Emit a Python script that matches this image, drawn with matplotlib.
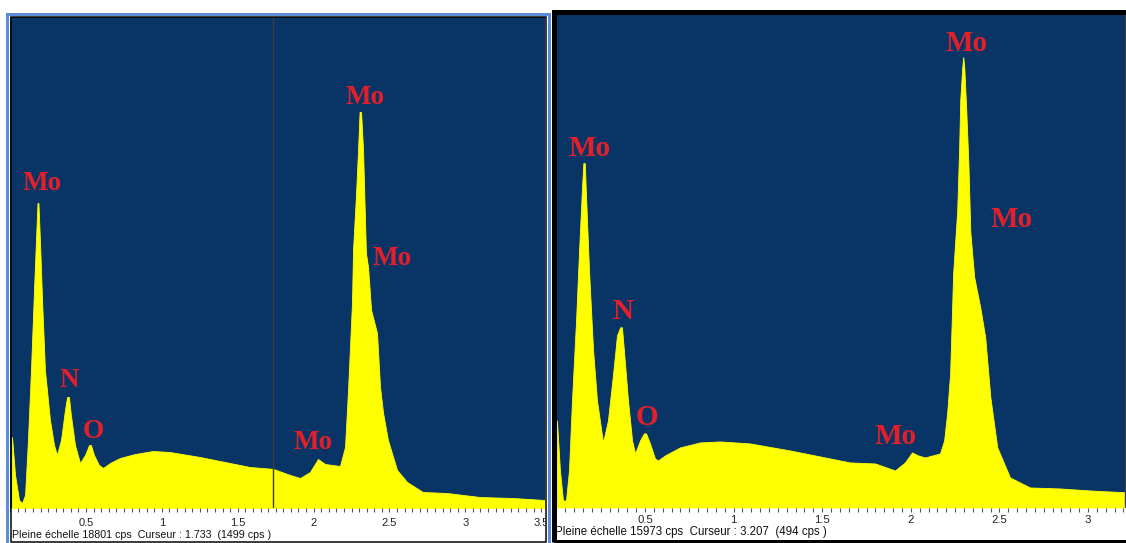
import numpy as np
import matplotlib
matplotlib.use("Agg")
import matplotlib.pyplot as plt
from matplotlib.patches import Rectangle
from matplotlib.ticker import MultipleLocator, FixedLocator, FixedFormatter

# ---- spectrum 1 (energy in keV, counts in cps) ----
energy_a = [0.012, 0.032, 0.058, 0.078, 0.098, 0.117, 0.137, 0.157, 0.170, 0.180,
            0.186, 0.196, 0.210, 0.229, 0.262, 0.289, 0.308, 0.335, 0.361, 0.375,
            0.387, 0.400, 0.427, 0.460, 0.493, 0.520, 0.532, 0.552, 0.585, 0.612,
            0.658, 0.724, 0.823, 0.941, 1.053, 1.251, 1.416, 1.580, 1.733, 1.845,
            1.911, 1.976, 2.029, 2.075, 2.174, 2.207, 2.227, 2.253, 2.260, 2.280,
            2.293, 2.303, 2.313, 2.326, 2.345, 2.359, 2.379, 2.418, 2.438, 2.458,
            2.490, 2.550, 2.616, 2.720, 2.879, 3.097, 3.315, 3.525]
counts_a = [2719, 1264, 306, 191, 498, 2604, 5284, 8347, 10262, 11678,
            11678, 10262, 7964, 5284, 3370, 2412, 2029, 2604, 3752, 4250,
            4250, 3561, 2412, 1723, 2029, 2412, 2412, 2029, 1646, 1532,
            1723, 1915, 2068, 2183, 2144, 1953, 1761, 1570, 1499, 1264,
            1149, 1378, 1876, 1685, 1608, 2336, 4518, 7849, 9879, 12061,
            13708, 15162, 15162, 13708, 9764, 9228, 7582, 6701, 4633, 3638,
            2604, 1455, 996, 613, 574, 421, 383, 306]
full_scale_a = 18801
cursor_a = (1.733, 1499)

# ---- spectrum 2 ----
energy_b = [0.003, 0.020, 0.037, 0.054, 0.071, 0.088, 0.111, 0.128, 0.144, 0.152,
            0.160, 0.167, 0.184, 0.207, 0.229, 0.263, 0.291, 0.319, 0.342, 0.360,
            0.370, 0.381, 0.404, 0.427, 0.444, 0.472, 0.494, 0.506, 0.528, 0.556,
            0.573, 0.613, 0.697, 0.810, 0.923, 1.092, 1.318, 1.544, 1.657, 1.798,
            1.911, 1.967, 2.007, 2.041, 2.080, 2.165, 2.188, 2.205, 2.222, 2.239,
            2.262, 2.273, 2.279, 2.290, 2.296, 2.302, 2.313, 2.325, 2.336, 2.358,
            2.392, 2.420, 2.449, 2.488, 2.560, 2.673, 2.843, 3.012, 3.207]
counts_b = [2819, 1199, 227, 227, 1199, 3467, 6059, 8327, 10271, 11146,
            11146, 10109, 7679, 5087, 3467, 2106, 2819, 4277, 5573, 5832,
            5832, 5087, 3467, 2171, 1750, 2171, 2398, 2398, 2074, 1588,
            1523, 1685, 1944, 2106, 2138, 2074, 1847, 1588, 1458, 1426,
            1199, 1458, 1782, 1685, 1620, 1750, 2171, 3046, 4342, 7582,
            9623, 11664, 13187, 14224, 14580, 14224, 12863, 11146, 8910, 7452,
            6480, 5508, 3564, 1944, 972, 648, 616, 551, 494]
full_scale_b = 15973
cursor_b = (3.207, 494)

# peak annotations: (text, energy, counts)
labels_a = [("Mo", 0.21, 12444), ("N", 0.389, 4901), ("O", 0.546, 2948),
            ("Mo", 2.339, 15737), ("Mo", 2.517, 9572), ("Mo", 1.996, 2489)]
labels_b = [("Mo", 0.189, 11632), ("N", 0.374, 6350), ("O", 0.511, 2916),
            ("Mo", 2.317, 15034), ("Mo", 2.571, 9331), ("Mo", 1.916, 2300)]

tick_labels_a = ["0.5", "1", "1.5", "2", "2.5", "3", "3.5"]
tick_labels_b = ["0.5", "1", "1.5", "2", "2.5", "3"]

W, H = 1126, 543
NAVY = "#083566"
YELLOW = "#ffff00"
RED = "#e3202a"

fig = plt.figure(figsize=(W / 100, H / 100), dpi=100)
fig.patch.set_facecolor("white")


def px_rect(x0, y0, x1, y1):
    """Figure-fraction rectangle from pixel edges (y measured from top)."""
    return [x0 / W, 1 - y1 / H, (x1 - x0) / W, (y1 - y0) / H]


def spectrum_panel(rect, xmax, energy, counts, full_scale, ticks, cursor,
                   labels, label_size, tick_size, tick_pad):
    ax = fig.add_axes(rect)
    ax.set_facecolor(NAVY)
    ax.fill_between(energy, counts, 0, color=YELLOW, lw=0.6, edgecolor=YELLOW)
    ax.axvline(cursor[0], color="#3c3c3c", lw=1.0)
    ax.set_xlim(0, xmax)
    ax.set_ylim(0, full_scale)
    ax.set_yticks([])
    for s in ax.spines.values():
        s.set_visible(False)
    majors = [float(t) for t in ticks]
    ax.xaxis.set_major_locator(FixedLocator(majors))
    ax.xaxis.set_major_formatter(FixedFormatter(ticks))
    ax.xaxis.set_minor_locator(MultipleLocator(0.05))
    ax.tick_params(axis="x", which="both", direction="out", length=3,
                   width=0.8, color="#555555", labelsize=tick_size, pad=tick_pad,
                   labelcolor="#222222")
    for lbl in ax.get_xticklabels():
        lbl.set_fontfamily("Liberation Sans")
    for text, e, c in labels:
        ax.text(e, c, text, color=RED, fontsize=label_size, fontweight="bold",
                family="Liberation Serif", ha="center", va="center")
    return ax


# left spectrum
ax_a = spectrum_panel(px_rect(10.2, 17, 545, 508), (545 - 10.2) / 151.7,
                      energy_a, counts_a, full_scale_a, tick_labels_a, cursor_a,
                      labels_a, 19.5, 8, 4)
# right spectrum
ax_b = spectrum_panel(px_rect(556.4, 14, 1126, 507.5), (1126 - 556.4) / 177.2,
                      energy_b, counts_b, full_scale_b, tick_labels_b, cursor_b,
                      labels_b, 21, 8.2, 2.2)

# clip the last left tick label at the panel edge
clip = matplotlib.transforms.Bbox.from_extents(0, 0, 545, H)
for lbl in ax_a.get_xticklabels():
    lbl.set_clip_box(clip)
    lbl.set_clip_on(True)

# captions
fig.text(12 / W, 1 - 535.5 / H,
         "Pleine échelle %d cps  Curseur : %.3f  (%d cps )" % (full_scale_a, cursor_a[0], cursor_a[1]),
         fontsize=7.7, family="Liberation Sans", va="center", ha="left", color="#111111")
fig.text(555 / W, 1 - 532.5 / H,
         "Pleine échelle %d cps  Curseur : %.3f  (%d cps )" % (full_scale_b, cursor_b[0], cursor_b[1]),
         fontsize=8.3, family="Liberation Sans", va="center", ha="left", color="#111111")

# panel frames
def frame(x0, y0, x1, y1, color, lw_px):
    fig.patches.append(Rectangle((x0 / W, 1 - y1 / H), (x1 - x0) / W, (y1 - y0) / H,
                                 transform=fig.transFigure, fill=False,
                                 edgecolor=color, lw=lw_px * 0.72, zorder=10))

frame(7.5, 13.5, 549, 545, "#5b8ed6", 3)
frame(10.5, 16.5, 545.5, 541.5, "black", 1.5)
frame(554, 11.5, 1132, 541.5, "black", 5)

fig.savefig("out.png", dpi=100, facecolor="white")
